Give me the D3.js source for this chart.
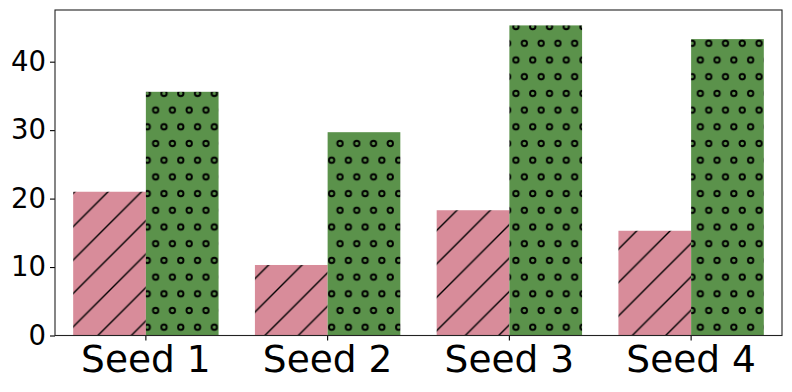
<!DOCTYPE html>
<html>
<head>
<meta charset="utf-8">
<script src="https://cdn.jsdelivr.net/npm/d3@7"></script>
<style>
  body { margin: 0; background: #fff; }
  svg { display: block; font-family: "DejaVu Sans", sans-serif; }
</style>
</head>
<body>
<svg id="chart" width="792" height="392"></svg>
<script>
// data
let seeds = ['Seed 1', 'Seed 2', 'Seed 3', 'Seed 4'];
let seriesA = [21.0, 10.3, 18.3, 15.3];   // pink, hatched '/'
let seriesB = [35.6, 29.7, 45.3, 43.3];   // green, circles
let yTicks = [0, 10, 20, 30, 40];

let svg = d3.select('#chart');
let margin = { top: 10, left: 55, right: 10, bot: 56 };
let width = 792, height = 392;
let bodyWidth = 782 - margin.left;
let bodyHeight = 335.5 - margin.top;

let defs = svg.append('defs');

// diagonal hatch
let hatch = defs.append('pattern')
    .attr('id', 'hatchA')
    .attr('patternUnits', 'userSpaceOnUse')
    .attr('x', 0).attr('y', 1)
    .attr('width', 33.4).attr('height', 33.4);
hatch.append('rect').attr('width', 33.4).attr('height', 33.4).attr('fill', '#d88c9a');
[[0, 33.4, 33.4, 0], [-2, 2, 2, -2], [31.4, 35.4, 35.4, 31.4]].forEach(l => {
    hatch.append('line')
        .attr('x1', l[0]).attr('y1', l[1])
        .attr('x2', l[2]).attr('y2', l[3])
        .attr('stroke', '#000')
        .attr('stroke-width', 1.4);
});

// circle hatch
let circ = defs.append('pattern')
    .attr('id', 'hatchB')
    .attr('patternUnits', 'userSpaceOnUse')
    .attr('x', 146.73).attr('y', 24.95)
    .attr('width', 16.76).attr('height', 33.4);
circ.append('rect').attr('width', 16.76).attr('height', 33.4).attr('fill', '#5b924b');
[[4.19, 8.35], [12.57, 25.05]].forEach(c => {
    circ.append('circle')
        .attr('cx', c[0]).attr('cy', c[1])
        .attr('r', 2.7)
        .attr('fill', 'none')
        .attr('stroke', '#000')
        .attr('stroke-width', 1.9);
});

let xScale = d3.scaleBand()
    .domain(seeds)
    .range([0, bodyWidth])
    .paddingInner(0.2)
    .paddingOuter(0.1);
let sub = d3.scaleBand()
    .domain(['A', 'B'])
    .range([0, xScale.bandwidth()]);
let yScale = d3.scaleLinear()
    .domain([0, 47.55])
    .range([bodyHeight, 0]);

let body = svg.append('g')
    .attr('transform', `translate(${margin.left},${margin.top})`);

let series = [
    { key: 'A', values: seriesA, fill: 'url(#hatchA)' },
    { key: 'B', values: seriesB, fill: 'url(#hatchB)' }
];
for (let s of series) {
    body.selectAll(null)
        .data(s.values)
        .enter()
        .append('rect')
        .attr('x', (d, i) => xScale(seeds[i]) + sub(s.key))
        .attr('y', d => yScale(d))
        .attr('width', sub.bandwidth())
        .attr('height', d => bodyHeight - yScale(d))
        .attr('fill', s.fill);
}

// axes
let yAx = body.append('g')
    .call(d3.axisLeft(yScale).tickValues(yTicks).tickSize(5).tickPadding(4));
yAx.select('.domain').remove();
yAx.selectAll('line').attr('stroke', '#000').attr('stroke-width', 1.1);
yAx.selectAll('text')
    .attr('fill', '#000')
    .style('font-size', '27.5px')
    .style('font-family', '"DejaVu Sans", sans-serif');

let xAx = body.append('g')
    .attr('transform', `translate(0,${bodyHeight})`)
    .call(d3.axisBottom(xScale).tickSize(5).tickPadding(4));
xAx.select('.domain').remove();
xAx.selectAll('line').attr('stroke', '#000').attr('stroke-width', 1.1);
xAx.selectAll('text')
    .attr('fill', '#000')
    .attr('dy', '0.72em')
    .style('font-size', '37.5px')
    .style('font-family', '"DejaVu Sans", sans-serif');

// frame
body.append('rect')
    .attr('width', bodyWidth)
    .attr('height', bodyHeight)
    .attr('fill', 'none')
    .attr('stroke', '#222')
    .attr('stroke-width', 1.1);
</script>
</body>
</html>
